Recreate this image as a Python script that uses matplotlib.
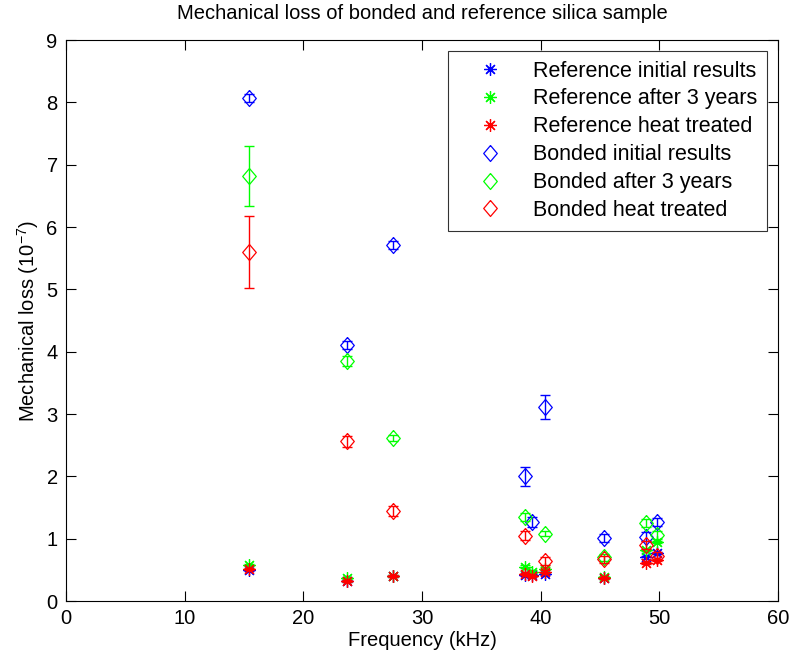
import numpy as np
import matplotlib
matplotlib.use("Agg")
import matplotlib.pyplot as plt
from matplotlib.lines import Line2D

# ============================================================
# Data
# ============================================================

freq = [15.4, 23.7, 27.55, 38.7, 39.3, 40.35, 45.3, 48.9, 49.8]

ref_initial = [0.50, 0.32, 0.40, 0.42, 0.42, 0.43, 0.37, 0.70, 0.77]
ref_3years = [0.58, 0.37, 0.40, 0.55, 0.47, 0.52, 0.38, 0.82, 0.95]
ref_heat = [0.51, 0.32, 0.40, 0.43, 0.40, 0.47, 0.37, 0.61, 0.66]
ref_err = [0.02, 0.02, 0.02, 0.02, 0.02, 0.02, 0.02, 0.02, 0.02]

bond_initial = [8.07, 4.11, 5.71, 2.00, 1.27, 3.11, 1.01, 1.03, 1.27]
bond_initial_err = [0.07, 0.06, 0.06, 0.15, 0.08, 0.19, 0.07, 0.07, 0.07]
bond_3years = [6.82, 3.85, 2.61, 1.35, np.nan, 1.08, 0.70, 1.25, 1.06]
bond_3years_err = [0.48, 0.08, 0.05, 0.06, np.nan, 0.04, 0.05, 0.06, 0.06]
bond_heat = [5.60, 2.56, 1.45, 1.05, np.nan, 0.64, 0.67, 0.90, 0.72]
bond_heat_err = [0.58, 0.09, 0.08, 0.07, np.nan, 0.07, 0.06, 0.06, 0.06]

labels = [
    "Reference initial results",
    "Reference after 3 years",
    "Reference heat treated",
    "Bonded initial results",
    "Bonded after 3 years",
    "Bonded heat treated",
]

# ============================================================
# Style
# ============================================================

plt.rcParams["font.family"] = ["Liberation Sans", "DejaVu Sans"]
plt.rcParams["mathtext.fontset"] = "custom"
plt.rcParams["mathtext.rm"] = "Liberation Sans"
plt.rcParams["mathtext.it"] = "Liberation Sans"

BLUE = (0, 0, 1)
GREEN = (0, 1, 0)
RED = (1, 0, 0)

diamond = [(0, 1), (0.85, 0), (0, -1), (-0.85, 0), (0, 1)]
star = (8, 2, 0)

FS = 14.5

fig = plt.figure(figsize=(7.9, 6.58), dpi=100)
ax = fig.add_axes([0.0835, 0.0866, 0.9015, 0.8524])

series = [
    (ref_initial, ref_err, BLUE, star),
    (ref_3years, ref_err, GREEN, star),
    (ref_heat, ref_err, RED, star),
    (bond_initial, bond_initial_err, BLUE, diamond),
    (bond_3years, bond_3years_err, GREEN, diamond),
    (bond_heat, bond_heat_err, RED, diamond),
]

handles = []
for (vals, err, col, mk), lab in zip(series, labels):
    ms = 9 if mk is star else 11.5
    ax.errorbar(freq, vals, yerr=err, fmt="none", ecolor=col,
                elinewidth=1, capsize=3.3, capthick=1)
    ax.plot(freq, vals, linestyle="none", marker=mk, markersize=ms,
            markerfacecolor="none", markeredgecolor=col, markeredgewidth=0.9)
    handles.append(Line2D([], [], linestyle="none", marker=mk, markersize=ms,
                          markerfacecolor="none", markeredgecolor=col,
                          markeredgewidth=0.9, label=lab))

ax.set_xlim(0, 60)
ax.set_ylim(0, 9)
ax.set_xticks(np.arange(0, 61, 10))
ax.set_yticks(np.arange(0, 10, 1))
ax.tick_params(direction="in", top=True, right=True, length=7,
               labelsize=FS, width=0.8, pad=6)
for s in ax.spines.values():
    s.set_linewidth(0.8)

ax.set_xlabel("Frequency (kHz)", fontsize=FS, labelpad=2)
ax.set_ylabel("Mechanical loss (10$^{-7}$)", fontsize=FS, labelpad=4)
ax.set_title("Mechanical loss of bonded and reference silica sample",
             fontsize=FS, pad=15)

leg = ax.legend(handles=handles, loc="upper right", fontsize=15.5,
                frameon=True, fancybox=False, edgecolor="black",
                borderaxespad=0.5, handletextpad=0.5, labelspacing=0.32,
                borderpad=0.45, handlelength=3.0)
leg.get_frame().set_linewidth(0.8)

fig.savefig("out.png", dpi=100)
